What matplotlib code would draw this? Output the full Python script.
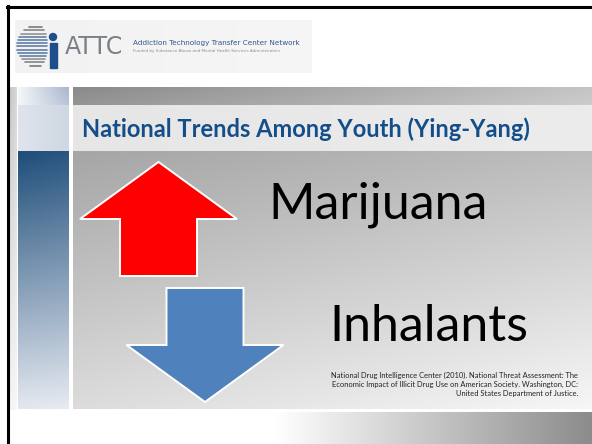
import numpy as np
import matplotlib.pyplot as plt
from matplotlib.patches import Polygon, Rectangle, Circle

# slide content
title = "National Trends Among Youth (Ying-Yang)"
trend_labels = ["Marijuana", "Inhalants"]
trend_dirs = ["up", "down"]
trend_colors = ["#ff0000", "#4f81bd"]
citation = ["National Drug Intelligence Center (2010). National Threat Assessment: The",
            "Economic Impact of Illicit Drug Use on American Society. Washington, DC:",
            "United States Department of Justice."]
org_name = "ATTC"
org_full = "Addiction Technology Transfer Center Network"
org_sub = "Funded by Substance Abuse and Mental Health Services Administration"

W, H = 592, 444
fig = plt.figure(figsize=(W / 100, H / 100), dpi=100)
ax = fig.add_axes([0, 0, 1, 1])
ax.set_xlim(0, W)
ax.set_ylim(H, 0)
ax.axis("off")


def hexrgb(c):
    c = c.lstrip("#")
    return np.array([int(c[i:i + 2], 16) / 255 for i in (0, 2, 4)])


def corners_fill(x0, x1, y0, y1, tl, tr, bl, br, z=0):
    # bilinear gradient between four corner colours
    n = 64
    tx = np.linspace(0, 1, n)[None, :, None]
    ty = np.linspace(0, 1, n)[:, None, None]
    tl, tr, bl, br = map(hexrgb, (tl, tr, bl, br))
    img = (tl * (1 - tx) * (1 - ty) + tr * tx * (1 - ty)
           + bl * (1 - tx) * ty + br * tx * ty)
    ax.imshow(img, extent=(x0, x1, y1, y0), aspect="auto",
              interpolation="bilinear", zorder=z)


# header logo box
corners_fill(15, 312, 20, 73, "#f2f2f2", "#f6f6f6", "#f2f2f2", "#f6f6f6")

# logo mark: striped globe plus "i"
stripe_y = np.arange(24, 70, 3.2)
for yy in stripe_y:
    half = np.sqrt(max(0, 21 ** 2 - (yy - 46) ** 2))
    shade = abs(yy - 46) / 23
    ax.plot([38 - half, 38 + half * 0.45], [yy, yy],
            color=plt.cm.Greys(0.35 + 0.3 * shade) if shade > 0.5 else "#5f7fa8",
            lw=1.2, solid_capstyle="round", zorder=2)
ax.add_patch(Circle((53, 37), 3.5, color="#1f4e8c", zorder=3))
ax.add_patch(Rectangle((49.5, 43), 7, 25, color="#1f4e8c", zorder=3))

ax.text(65, 47, org_name, fontsize=17, color="#7a8088", family="DejaVu Sans",
        va="center", ha="left", zorder=3)
ax.text(133, 43, org_full, fontsize=5.2, color="#34558a", family="DejaVu Sans",
        va="center", ha="left", zorder=3)
ax.text(133, 51, org_sub, fontsize=3.0, color="#8a8f96", family="DejaVu Sans",
        va="center", ha="left", zorder=3)

# left margin strip
corners_fill(9, 17, 88, 410, "#c4c4c4", "#d8d8d8", "#f4f4f4", "#f8f8f8")

# top dark band
corners_fill(18, 69, 88, 105, "#f4f6f9", "#a7b6cf", "#f4f6f9", "#b9c5d8", z=1)
corners_fill(73, W, 88, 105, "#8a8a8a", "#c4c4c4", "#959595", "#cccccc", z=1)

# title band
corners_fill(18, 69, 105, 152, "#dfe4ec", "#cfd7e3", "#dfe4ec", "#cfd7e3", z=1)
corners_fill(73, W, 105, 152, "#e6e6e6", "#ececec", "#e6e6e6", "#ececec", z=1)

# content
corners_fill(18, 69, 152, 409, "#1f4e79", "#2a5682", "#e2e7ef", "#e6eaf1", z=1)
corners_fill(73, W, 152, 409, "#a6a6a6", "#bdbdbd", "#dcdcdc", "#f6f6f6", z=1)

# bottom strip
n = 128
tx = np.linspace(0, 1, n)
col = np.where(tx < 0.45, 1.0, 1.0 - (tx - 0.45) / 0.55 * 0.45)
img = np.repeat(np.repeat(col[None, :, None], 3, axis=2), 8, axis=0)
ax.imshow(img, extent=(18, W, 444, 412), aspect="auto",
          interpolation="bilinear", zorder=1, vmin=0, vmax=1)

# frame
ax.plot([8, 8], [6, H], color="black", lw=2.2, zorder=5)
ax.plot([7, W], [7, 7], color="black", lw=2.2, zorder=5)

ax.text(82, 129, title, fontsize=17, fontweight="bold", color="#134e8a",
        family="Lato", va="center", ha="left", zorder=4)

# arrows: centre x, tip y, shaft width, head width, head length, total length
arrow_cx = [158.5, 205]
arrow_tip = [162, 402]
shaft_w = 77
head_w = 157
head_len = 57
total_len = 114
for cx, tip, d, c in zip(arrow_cx, arrow_tip, trend_dirs, trend_colors):
    s = 1 if d == "up" else -1
    base = tip + s * head_len
    end = tip + s * total_len
    pts = [(cx, tip), (cx + head_w / 2, base), (cx + shaft_w / 2, base),
           (cx + shaft_w / 2, end), (cx - shaft_w / 2, end),
           (cx - shaft_w / 2, base), (cx - head_w / 2, base)]
    ax.add_patch(Polygon(pts, closed=True, facecolor=c, edgecolor="white",
                         lw=1.4, zorder=4))

label_x = [378, 429]
label_y = [205, 327]
for lab, lx, ly in zip(trend_labels, label_x, label_y):
    ax.text(lx, ly, lab, fontsize=36, color="black", family="Lato",
            va="center", ha="center", zorder=4)

cite_y = [375, 384, 393]
for line, cy in zip(citation, cite_y):
    ax.text(578, cy, line, fontsize=5.4, color="#222222", family="Lato",
            va="center", ha="right", zorder=4)

fig.savefig("out.png", dpi=100)
